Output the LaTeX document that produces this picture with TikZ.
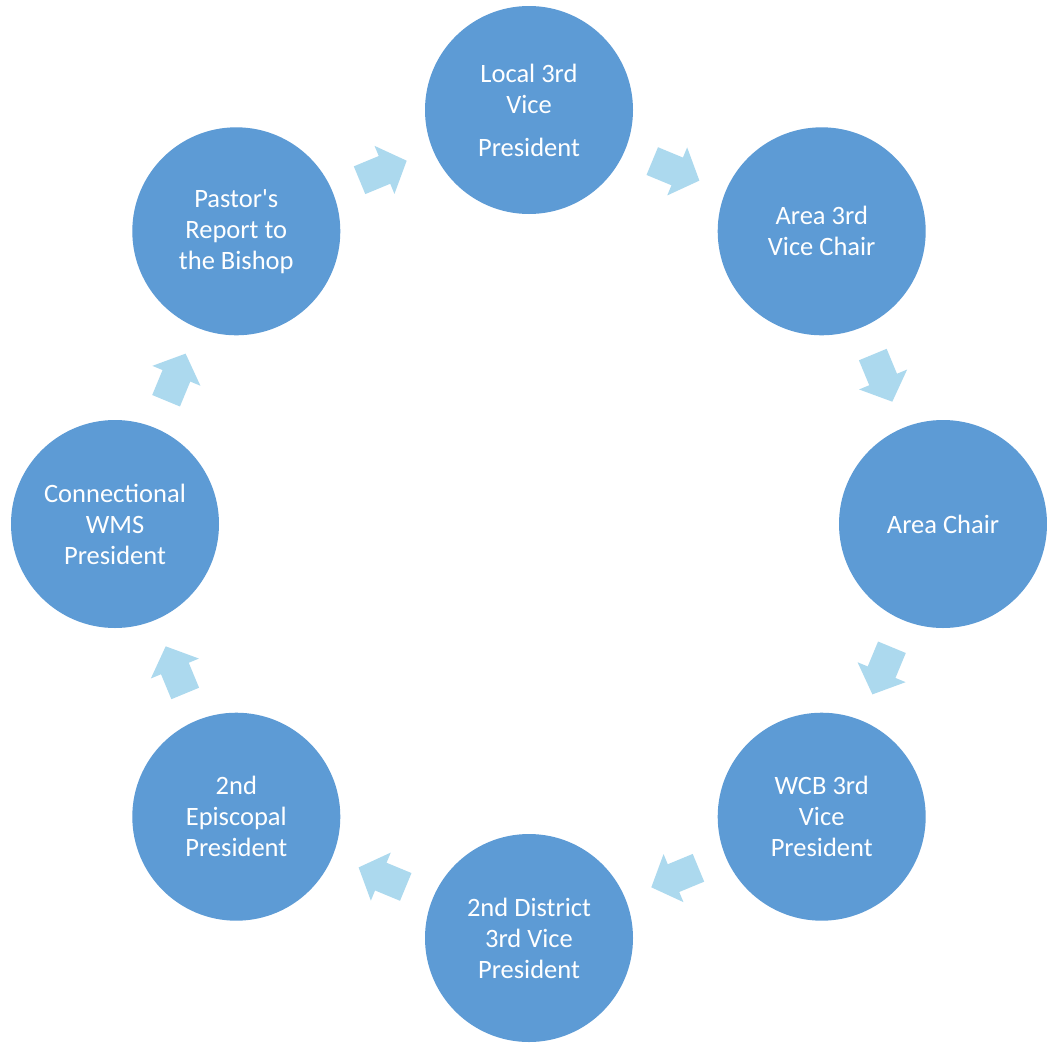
\documentclass[tikz,border=0pt]{standalone}
\usepackage{fontspec}
\setmainfont{Carlito}
\usetikzlibrary{calc}
\definecolor{circblue}{RGB}{93,155,213}
\definecolor{arrblue}{RGB}{172,217,238}
\tikzset{
  stage/.style={circle, fill=circblue, minimum size=208pt, inner sep=0pt,
    text=white, align=center, font=\fontsize{26.5}{31}\selectfont},
  arrowfill/.style={fill=arrblue}
}
\begin{document}
\begin{tikzpicture}[x=1pt,y=-1pt]
\useasboundingbox (0,0) rectangle (1047,1042);
\fill[white] (0,0) rectangle (1047,1042);
\node[stage] (n0) at (529,110) {Local 3rd\\Vice\\[12pt]President};
\node[stage] (n1) at (821.7,231.3) {Area 3rd\\Vice Chair};
\node[stage] (n2) at (943,524) {Area Chair};
\node[stage] (n3) at (821.7,816.7) {WCB 3rd\\Vice\\President};
\node[stage] (n4) at (529,938) {2nd District\\3rd Vice\\President};
\node[stage] (n5) at (236.3,816.7) {2nd\\Episcopal\\President};
\node[stage] (n6) at (115,524) {Connectional\\WMS\\President};
\node[stage] (n7) at (236.3,231.3) {Pastor\textquotesingle s\\Report to\\the Bishop};
\foreach \a/\b/\r in {n0/n1/-22.5, n1/n2/-67.5, n2/n3/-112.5, n3/n4/-157.5,
                      n4/n5/157.5, n5/n6/112.5, n6/n7/67.5, n7/n0/22.5}{
  \coordinate (m\a) at ($(\a)!0.5!(\b)$);
  \begin{scope}[shift={(m\a)}, rotate=\r]
    \fill[arrowfill] (-25,15) -- (2,15) -- (2,26) -- (26,0) -- (2,-26)
      -- (2,-15) -- (-25,-15) -- cycle;
  \end{scope}
}
\end{tikzpicture}
\end{document}
